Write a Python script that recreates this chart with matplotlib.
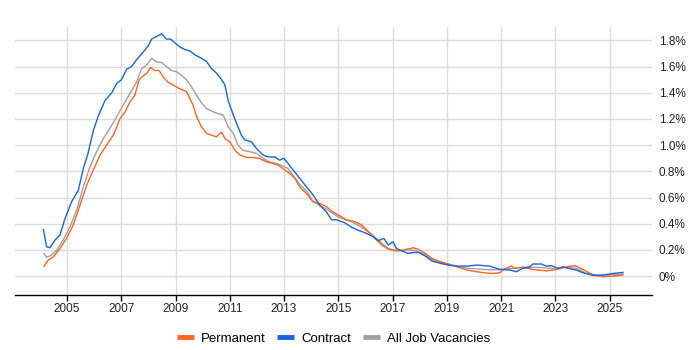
import matplotlib.pyplot as plt
from matplotlib.ticker import FuncFormatter

plt.rcParams['font.family'] = ['Liberation Sans', 'DejaVu Sans']

# Contract (blue)
contract_x = [2004.13, 2004.25, 2004.37, 2004.56, 2004.74, 2004.93, 2005.17, 2005.42, 2005.6, 2005.78,
              2005.97, 2006.15, 2006.4, 2006.65, 2006.83, 2007.01, 2007.2, 2007.38, 2007.57, 2007.81,
              2008.0, 2008.12, 2008.3, 2008.49, 2008.67, 2008.82, 2008.98, 2009.16, 2009.35, 2009.53,
              2009.71, 2009.9, 2010.14, 2010.33, 2010.51, 2010.7, 2010.82, 2010.94, 2011.13, 2011.3,
              2011.43, 2011.55, 2011.8, 2011.98, 2012.23, 2012.41, 2012.66, 2012.84, 2012.99, 2013.15,
              2013.33, 2013.58, 2013.83, 2014.07, 2014.32, 2014.56, 2014.75, 2014.93, 2015.24, 2015.49,
              2015.73, 2016.04, 2016.29, 2016.47, 2016.68, 2016.84, 2017.02, 2017.14, 2017.34, 2017.57,
              2017.77, 2017.96, 2018.2, 2018.45, 2018.76, 2019.06, 2019.37, 2019.74, 2020.1, 2020.58,
              2020.95, 2021.32, 2021.56, 2021.8, 2022.05, 2022.17, 2022.48, 2022.67, 2022.85, 2023.1,
              2023.28, 2023.46, 2023.77, 2024.02, 2024.38, 2024.75, 2025.12, 2025.49]
contract_y = [0.356, 0.224, 0.216, 0.275, 0.313, 0.44, 0.567, 0.656, 0.82, 0.94,
              1.11, 1.22, 1.34, 1.40, 1.47, 1.50, 1.58, 1.60, 1.654, 1.71,
              1.76, 1.81, 1.83, 1.85, 1.81, 1.81, 1.78, 1.75, 1.73, 1.72,
              1.69, 1.67, 1.64, 1.585, 1.55, 1.50, 1.46, 1.34, 1.23, 1.14,
              1.076, 1.04, 1.025, 0.975, 0.924, 0.91, 0.91, 0.885, 0.90, 0.86,
              0.81, 0.746, 0.68, 0.62, 0.54, 0.49, 0.43, 0.43, 0.407, 0.372,
              0.35, 0.326, 0.30, 0.27, 0.288, 0.237, 0.262, 0.21, 0.193, 0.173,
              0.18, 0.18, 0.153, 0.115, 0.097, 0.084, 0.076, 0.076, 0.084, 0.076,
              0.051, 0.046, 0.033, 0.059, 0.071, 0.092, 0.092, 0.076, 0.08, 0.059,
              0.071, 0.059, 0.046, 0.025, 0.005, 0.008, 0.02, 0.028]

# Permanent (orange)
perm_x = [2004.15, 2004.31, 2004.5, 2004.74, 2004.99, 2005.23, 2005.48, 2005.73, 2005.97, 2006.22,
          2006.46, 2006.71, 2006.95, 2007.14, 2007.32, 2007.5, 2007.66, 2007.81, 2007.93, 2008.08,
          2008.24, 2008.4, 2008.55, 2008.73, 2008.91, 2009.16, 2009.4, 2009.53, 2009.65, 2009.78,
          2009.96, 2010.14, 2010.33, 2010.51, 2010.7, 2010.82, 2011.0, 2011.19, 2011.38, 2011.62,
          2011.87, 2012.1, 2012.35, 2012.6, 2012.84, 2013.03, 2013.21, 2013.4, 2013.58, 2013.83,
          2014.07, 2014.32, 2014.56, 2014.8, 2015.0, 2015.3, 2015.61, 2015.86, 2016.1, 2016.35,
          2016.6, 2016.85, 2017.1, 2017.34, 2017.53, 2017.77, 2017.96, 2018.2, 2018.45, 2018.76,
          2019.06, 2019.37, 2019.74, 2020.1, 2020.6, 2020.95, 2021.07, 2021.38, 2021.5, 2021.8,
          2022.17, 2022.67, 2023.04, 2023.41, 2023.71, 2024.02, 2024.38, 2024.75, 2025.12, 2025.49]
perm_y = [0.076, 0.122, 0.147, 0.21, 0.29, 0.39, 0.54, 0.695, 0.81, 0.924,
          1.0, 1.076, 1.20, 1.254, 1.33, 1.38, 1.50, 1.53, 1.545, 1.593,
          1.57, 1.57, 1.52, 1.48, 1.46, 1.43, 1.41, 1.356, 1.305, 1.216,
          1.14, 1.09, 1.076, 1.063, 1.10, 1.05, 1.025, 0.96, 0.924, 0.906,
          0.906, 0.898, 0.872, 0.86, 0.84, 0.81, 0.784, 0.746, 0.68, 0.63,
          0.567, 0.555, 0.53, 0.49, 0.466, 0.43, 0.415, 0.39, 0.34, 0.288,
          0.237, 0.204, 0.193, 0.193, 0.206, 0.216, 0.204, 0.173, 0.135, 0.109,
          0.092, 0.071, 0.046, 0.033, 0.02, 0.025, 0.05, 0.076, 0.059, 0.067,
          0.05, 0.04, 0.05, 0.071, 0.08, 0.05, 0.008, -0.005, 0.0, 0.008]

# All Job Vacancies (grey)
all_x = [2004.15, 2004.25, 2004.43, 2004.62, 2004.86, 2005.11, 2005.36, 2005.6, 2005.85, 2006.09,
         2006.34, 2006.58, 2006.83, 2007.07, 2007.32, 2007.57, 2007.75, 2007.93, 2008.12, 2008.3,
         2008.49, 2008.67, 2008.85, 2009.04, 2009.22, 2009.4, 2009.59, 2009.78, 2009.96, 2010.14,
         2010.39, 2010.57, 2010.76, 2010.94, 2011.13, 2011.3, 2011.49, 2011.74, 2011.98, 2012.23,
         2012.47, 2012.72, 2012.97, 2013.15, 2013.33, 2013.58, 2013.83, 2014.07, 2014.32, 2014.56,
         2014.8, 2015.0, 2015.43, 2015.8, 2016.16, 2016.53, 2016.84, 2017.14, 2017.53, 2017.83,
         2018.2, 2018.5, 2018.9, 2019.25, 2019.74, 2020.2, 2020.6, 2021.07, 2021.8, 2022.3,
         2022.91, 2023.41, 2023.77, 2024.14, 2024.63, 2025.12, 2025.49]
all_y = [0.173, 0.143, 0.16, 0.198, 0.275, 0.376, 0.504, 0.68, 0.834, 0.95,
         1.05, 1.127, 1.216, 1.305, 1.395, 1.483, 1.585, 1.61, 1.662, 1.636,
         1.63, 1.60, 1.57, 1.56, 1.534, 1.50, 1.445, 1.38, 1.323, 1.28,
         1.254, 1.24, 1.229, 1.14, 1.09, 1.0, 0.96, 0.95, 0.937, 0.898,
         0.872, 0.86, 0.84, 0.82, 0.77, 0.70, 0.65, 0.57, 0.54, 0.51,
         0.48, 0.45, 0.42, 0.38, 0.33, 0.265, 0.21, 0.196, 0.2, 0.196,
         0.163, 0.12, 0.097, 0.08, 0.06, 0.053, 0.048, 0.05, 0.067, 0.067,
         0.059, 0.067, 0.059, 0.02, 0.005, 0.01, 0.015]

year_ticks = [2005, 2007, 2009, 2011, 2013, 2015, 2017, 2019, 2021, 2023, 2025]
pct_ticks = [0, 0.2, 0.4, 0.6, 0.8, 1.0, 1.2, 1.4, 1.6, 1.8]

fig = plt.figure(figsize=(7, 3.5), dpi=100)
ax = fig.add_axes([0.0214, 0.157, 0.9096, 0.765])

ax.plot(all_x, all_y, color='#a0a0a0', lw=1.0, label='All Job Vacancies', zorder=3)
ax.plot(perm_x, perm_y, color='#ff6420', lw=1.0, label='Permanent', zorder=4)
ax.plot(contract_x, contract_y, color='#1a62e0', lw=1.0, label='Contract', zorder=5)

ax.set_xlim(2003.085, 2026.547)
ax.set_ylim(-0.145, 1.9)
ax.set_xticks(year_ticks)
ax.set_xticklabels([str(y) for y in year_ticks])
ax.set_yticks(pct_ticks)
ax.yaxis.set_major_formatter(FuncFormatter(lambda v, p: '0%' if abs(v) < 1e-9 else '%.1f%%' % v))
ax.yaxis.tick_right()

ax.grid(True, color='#dddddd', lw=1.0)
ax.set_axisbelow(True)
for s in ['top', 'left', 'right']:
    ax.spines[s].set_visible(False)
ax.spines['bottom'].set_color('#000000')
ax.spines['bottom'].set_linewidth(1.0)

ax.tick_params(axis='x', length=4, width=1, colors='#000000', labelcolor='#222222', labelsize=8.5, pad=2)
ax.tick_params(axis='y', length=0, labelcolor='#222222', labelsize=8.5, pad=5)

handles, labels = ax.get_legend_handles_labels()
order = [1, 2, 0]
leg = ax.legend([handles[i] for i in order], [labels[i] for i in order],
                loc='upper center', bbox_to_anchor=(0.5, -0.095), ncol=3, frameon=False,
                fontsize=9.5, handlelength=1.3, handletextpad=0.5, columnspacing=0.9)
for line in leg.get_lines():
    line.set_linewidth(3.5)
    line.set_solid_capstyle('butt')

fig.savefig('out.png', dpi=100)
